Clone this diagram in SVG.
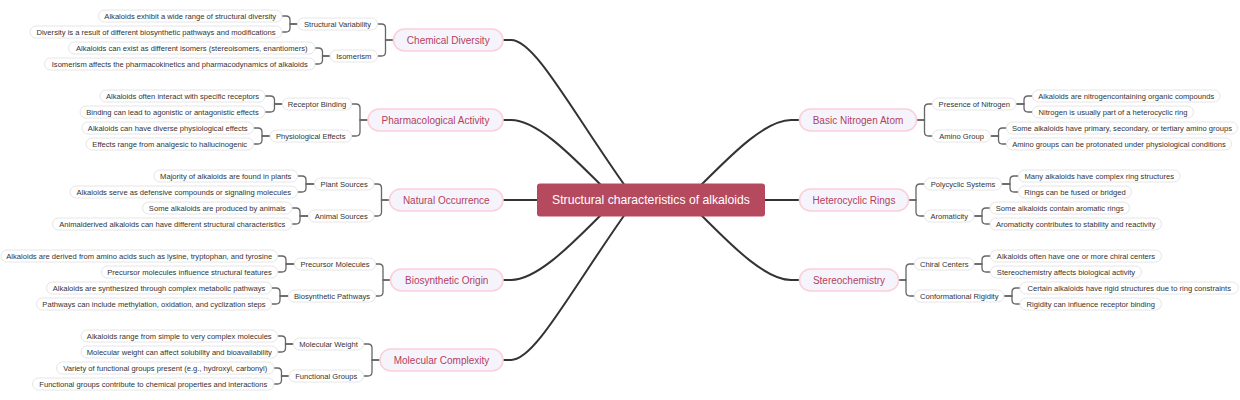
<svg xmlns="http://www.w3.org/2000/svg" width="1240" height="400" viewBox="0 0 1240 400">
<style>
text{font-family:"Liberation Sans",Arial,sans-serif;text-anchor:middle;dominant-baseline:central}
.root rect{fill:#b5495e}
.root text{fill:#fff;font-size:12.2px}
.main rect{fill:#f5f4fc;stroke:#fbd0d9;stroke-width:1.6}
.main text{fill:#b5405c;font-size:10px}
.sub rect,.leaf rect{fill:#fff;stroke:#e6e6e6;stroke-width:1}
.sub text,.leaf text{fill:#333;font-size:7.6px}
.mline{fill:none;stroke:#333;stroke-width:2}
.sline{fill:none;stroke:#666;stroke-width:1.3}
</style>
<rect width="1240" height="400" fill="#fff"/>
<g id="connectors">
<path class="mline" d="M503,40 H511 C535,40 571,110 628,190"/>
<path class="mline" d="M503,120 H511 C540,120 580,165 606,190"/>
<path class="mline" d="M503,200 H540"/>
<path class="mline" d="M503,280 H511 C540,280 580,235 606,210"/>
<path class="mline" d="M503,360 H511 C535,360 571,290 628,210"/>
<path class="mline" d="M799,120 H791 C762,120 722,165 696,190"/>
<path class="mline" d="M799,200 H762"/>
<path class="mline" d="M799,280 H791 C762,280 722,235 696,210"/>
<path class="sline" d="M393.5,40 H385.5 V28 Q385.5,24 381.5,24 H377.5"/>
<path class="sline" d="M393.5,40 H385.5 V52 Q385.5,56 381.5,56 H377.5"/>
<path class="sline" d="M297.5,24 H290 V20 Q290,16 286,16 H282"/>
<path class="sline" d="M297.5,24 H290 V28 Q290,32 286,32 H282"/>
<path class="sline" d="M330,56 H322.5 V52 Q322.5,48 318.5,48 H315"/>
<path class="sline" d="M330,56 H322.5 V60 Q322.5,64 318.5,64 H315"/>
<path class="sline" d="M368,120 H360 V108 Q360,104 356,104 H351.5"/>
<path class="sline" d="M368,120 H360 V132 Q360,136 356,136 H351.5"/>
<path class="sline" d="M282.5,104 H274.5 V100 Q274.5,96 270.5,96 H265"/>
<path class="sline" d="M282.5,104 H274.5 V108 Q274.5,112 270.5,112 H265"/>
<path class="sline" d="M270,136 H262 V132 Q262,128 258,128 H253.5"/>
<path class="sline" d="M270,136 H262 V140 Q262,144 258,144 H253.5"/>
<path class="sline" d="M389.5,200 H381.5 V188 Q381.5,184 377.5,184 H374"/>
<path class="sline" d="M389.5,200 H381.5 V212 Q381.5,216 377.5,216 H374"/>
<path class="sline" d="M314.5,184 H306 V180 Q306,176 302,176 H297.5"/>
<path class="sline" d="M314.5,184 H306 V188 Q306,192 302,192 H297.5"/>
<path class="sline" d="M308.5,216 H300 V212 Q300,208 296,208 H292"/>
<path class="sline" d="M308.5,216 H300 V220 Q300,224 296,224 H292"/>
<path class="sline" d="M390.5,280 H383 V268 Q383,264 379,264 H375.5"/>
<path class="sline" d="M390.5,280 H383 V292 Q383,296 379,296 H375.5"/>
<path class="sline" d="M294.5,264 H286 V260 Q286,256 282,256 H277.5"/>
<path class="sline" d="M294.5,264 H286 V268 Q286,272 282,272 H277.5"/>
<path class="sline" d="M288.5,296 H280 V292 Q280,288 276,288 H271.5"/>
<path class="sline" d="M288.5,296 H280 V300 Q280,304 276,304 H271.5"/>
<path class="sline" d="M380,360 H372 V348 Q372,344 368,344 H363.5"/>
<path class="sline" d="M380,360 H372 V372 Q372,376 368,376 H363.5"/>
<path class="sline" d="M293.5,344 H285.5 V340 Q285.5,336 281.5,336 H277.5"/>
<path class="sline" d="M293.5,344 H285.5 V348 Q285.5,352 281.5,352 H277.5"/>
<path class="sline" d="M289,376 H281.5 V372 Q281.5,368 277.5,368 H274"/>
<path class="sline" d="M289,376 H281.5 V380 Q281.5,384 277.5,384 H274"/>
<path class="sline" d="M916.5,120 H924.5 V108 Q924.5,104 928.5,104 H932.5"/>
<path class="sline" d="M916.5,120 H924.5 V132 Q924.5,136 928.5,136 H932.5"/>
<path class="sline" d="M1016,104 H1024 V100 Q1024,96 1028,96 H1032.5"/>
<path class="sline" d="M1016,104 H1024 V108 Q1024,112 1028,112 H1032.5"/>
<path class="sline" d="M990.5,136 H998.5 V132 Q998.5,128 1002.5,128 H1006.5"/>
<path class="sline" d="M990.5,136 H998.5 V140 Q998.5,144 1002.5,144 H1006.5"/>
<path class="sline" d="M908.5,200 H916 V188 Q916,184 920,184 H924.5"/>
<path class="sline" d="M908.5,200 H916 V212 Q916,216 920,216 H924.5"/>
<path class="sline" d="M1001.5,184 H1010 V180 Q1010,176 1014,176 H1018.5"/>
<path class="sline" d="M1001.5,184 H1010 V188 Q1010,192 1014,192 H1018.5"/>
<path class="sline" d="M974,216 H982 V212 Q982,208 986,208 H990"/>
<path class="sline" d="M974,216 H982 V220 Q982,224 986,224 H990"/>
<path class="sline" d="M898.5,280 H906 V268 Q906,264 910,264 H914.5"/>
<path class="sline" d="M898.5,280 H906 V292 Q906,296 910,296 H914.5"/>
<path class="sline" d="M974,264 H982 V260 Q982,256 986,256 H990.5"/>
<path class="sline" d="M974,264 H982 V268 Q982,272 986,272 H990.5"/>
<path class="sline" d="M1004,296 H1012 V292 Q1012,288 1016,288 H1020"/>
<path class="sline" d="M1004,296 H1012 V300 Q1012,304 1016,304 H1020"/>
</g>
<g id="root" class="root"><rect x="537" y="183.5" width="228" height="33" rx="3"/><text x="651" y="200">Structural characteristics of alkaloids</text></g>

<g id="chemical-diversity" class="main"><rect x="393.5" y="29" width="109.5" height="22" rx="11"/><text x="448.25" y="40">Chemical Diversity</text></g>
<g id="structural-variability" class="sub"><rect x="297.5" y="18" width="80" height="12" rx="6"/><text x="337.5" y="24">Structural Variability</text></g>
<g id="isomerism" class="sub"><rect x="330" y="50" width="47.5" height="12" rx="6"/><text x="353.75" y="56">Isomerism</text></g>
<g id="cd-l1" class="leaf"><rect x="98.5" y="10" width="183.5" height="12" rx="6"/><text x="190.25" y="16">Alkaloids exhibit a wide range of structural diversity</text></g>
<g id="cd-l2" class="leaf"><rect x="30" y="26" width="252" height="12" rx="6"/><text x="156" y="32">Diversity is a result of different biosynthetic pathways and modifications</text></g>
<g id="cd-l3" class="leaf"><rect x="68.5" y="42" width="246.5" height="12" rx="6"/><text x="191.75" y="48">Alkaloids can exist as different isomers (stereoisomers, enantiomers)</text></g>
<g id="cd-l4" class="leaf"><rect x="44.5" y="58" width="270.5" height="12" rx="6"/><text x="179.75" y="64">Isomerism affects the pharmacokinetics and pharmacodynamics of alkaloids</text></g>

<g id="pharmacological-activity" class="main"><rect x="368" y="109" width="135" height="22" rx="11"/><text x="435.5" y="120">Pharmacological Activity</text></g>
<g id="receptor-binding" class="sub"><rect x="282.5" y="98" width="69" height="12" rx="6"/><text x="317" y="104">Receptor Binding</text></g>
<g id="physiological-effects" class="sub"><rect x="270" y="130" width="81.5" height="12" rx="6"/><text x="310.75" y="136">Physiological Effects</text></g>
<g id="pa-l1" class="leaf"><rect x="100" y="90" width="165" height="12" rx="6"/><text x="182.5" y="96">Alkaloids often interact with specific receptors</text></g>
<g id="pa-l2" class="leaf"><rect x="80" y="106" width="185" height="12" rx="6"/><text x="172.5" y="112">Binding can lead to agonistic or antagonistic effects</text></g>
<g id="pa-l3" class="leaf"><rect x="82" y="122" width="171.5" height="12" rx="6"/><text x="167.75" y="128">Alkaloids can have diverse physiological effects</text></g>
<g id="pa-l4" class="leaf"><rect x="86" y="138" width="167.5" height="12" rx="6"/><text x="169.75" y="144">Effects range from analgesic to hallucinogenic</text></g>

<g id="natural-occurrence" class="main"><rect x="389.5" y="189" width="113.5" height="22" rx="11"/><text x="446.25" y="200">Natural Occurrence</text></g>
<g id="plant-sources" class="sub"><rect x="314.5" y="178" width="59.5" height="12" rx="6"/><text x="344.25" y="184">Plant Sources</text></g>
<g id="animal-sources" class="sub"><rect x="308.5" y="210" width="65.5" height="12" rx="6"/><text x="341.25" y="216">Animal Sources</text></g>
<g id="no-l1" class="leaf"><rect x="154" y="170" width="143.5" height="12" rx="6"/><text x="225.75" y="176">Majority of alkaloids are found in plants</text></g>
<g id="no-l2" class="leaf"><rect x="70" y="186" width="227.5" height="12" rx="6"/><text x="183.75" y="192">Alkaloids serve as defensive compounds or signaling molecules</text></g>
<g id="no-l3" class="leaf"><rect x="142.5" y="202" width="149.5" height="12" rx="6"/><text x="217.25" y="208">Some alkaloids are produced by animals</text></g>
<g id="no-l4" class="leaf"><rect x="52.5" y="218" width="239.5" height="12" rx="6"/><text x="172.25" y="224">Animalderived alkaloids can have different structural characteristics</text></g>

<g id="biosynthetic-origin" class="main"><rect x="390.5" y="269" width="112.5" height="22" rx="11"/><text x="446.75" y="280">Biosynthetic Origin</text></g>
<g id="precursor-molecules" class="sub"><rect x="294.5" y="258" width="81" height="12" rx="6"/><text x="335" y="264">Precursor Molecules</text></g>
<g id="biosynthetic-pathways" class="sub"><rect x="288.5" y="290" width="87" height="12" rx="6"/><text x="332" y="296">Biosynthetic Pathways</text></g>
<g id="bo-l1" class="leaf"><rect x="1" y="250" width="276.5" height="12" rx="6"/><text x="139.25" y="256">Alkaloids are derived from amino acids such as lysine, tryptophan, and tyrosine</text></g>
<g id="bo-l2" class="leaf"><rect x="101.5" y="266" width="176" height="12" rx="6"/><text x="189.5" y="272">Precursor molecules influence structural features</text></g>
<g id="bo-l3" class="leaf"><rect x="46.5" y="282" width="225" height="12" rx="6"/><text x="159" y="288">Alkaloids are synthesized through complex metabolic pathways</text></g>
<g id="bo-l4" class="leaf"><rect x="36.5" y="298" width="235" height="12" rx="6"/><text x="154" y="304">Pathways can include methylation, oxidation, and cyclization steps</text></g>

<g id="molecular-complexity" class="main"><rect x="380" y="349" width="123" height="22" rx="11"/><text x="441.5" y="360">Molecular Complexity</text></g>
<g id="molecular-weight" class="sub"><rect x="293.5" y="338" width="70" height="12" rx="6"/><text x="328.5" y="344">Molecular Weight</text></g>
<g id="functional-groups" class="sub"><rect x="289" y="370" width="74.5" height="12" rx="6"/><text x="326.25" y="376">Functional Groups</text></g>
<g id="mc-l1" class="leaf"><rect x="81" y="330" width="196.5" height="12" rx="6"/><text x="179.25" y="336">Alkaloids range from simple to very complex molecules</text></g>
<g id="mc-l2" class="leaf"><rect x="81" y="346" width="196.5" height="12" rx="6"/><text x="179.25" y="352">Molecular weight can affect solubility and bioavailability</text></g>
<g id="mc-l3" class="leaf"><rect x="56.5" y="362" width="217.5" height="12" rx="6"/><text x="165.25" y="368">Variety of functional groups present (e.g., hydroxyl, carbonyl)</text></g>
<g id="mc-l4" class="leaf"><rect x="32.5" y="378" width="241.5" height="12" rx="6"/><text x="153.25" y="384">Functional groups contribute to chemical properties and interactions</text></g>

<g id="basic-nitrogen-atom" class="main"><rect x="799.5" y="109" width="117" height="22" rx="11"/><text x="858" y="120">Basic Nitrogen Atom</text></g>
<g id="presence-of-nitrogen" class="sub"><rect x="932.5" y="98" width="83.5" height="12" rx="6"/><text x="974.25" y="104">Presence of Nitrogen</text></g>
<g id="amino-group" class="sub"><rect x="932.5" y="130" width="58" height="12" rx="6"/><text x="961.5" y="136">Amino Group</text></g>
<g id="bn-l1" class="leaf"><rect x="1032.5" y="90" width="187.5" height="12" rx="6"/><text x="1126.25" y="96">Alkaloids are nitrogencontaining organic compounds</text></g>
<g id="bn-l2" class="leaf"><rect x="1032.5" y="106" width="161" height="12" rx="6"/><text x="1113" y="112">Nitrogen is usually part of a heterocyclic ring</text></g>
<g id="bn-l3" class="leaf"><rect x="1006.5" y="122" width="231" height="12" rx="6"/><text x="1122" y="128">Some alkaloids have primary, secondary, or tertiary amino groups</text></g>
<g id="bn-l4" class="leaf"><rect x="1006.5" y="138" width="225" height="12" rx="6"/><text x="1119" y="144">Amino groups can be protonated under physiological conditions</text></g>

<g id="heterocyclic-rings" class="main"><rect x="799.5" y="189" width="109" height="22" rx="11"/><text x="854" y="200">Heterocyclic Rings</text></g>
<g id="polycyclic-systems" class="sub"><rect x="924.5" y="178" width="77" height="12" rx="6"/><text x="963" y="184">Polycyclic Systems</text></g>
<g id="aromaticity" class="sub"><rect x="924.5" y="210" width="49.5" height="12" rx="6"/><text x="949.25" y="216">Aromaticity</text></g>
<g id="hr-l1" class="leaf"><rect x="1018.5" y="170" width="161.5" height="12" rx="6"/><text x="1099.25" y="176">Many alkaloids have complex ring structures</text></g>
<g id="hr-l2" class="leaf"><rect x="1018.5" y="186" width="113" height="12" rx="6"/><text x="1075" y="192">Rings can be fused or bridged</text></g>
<g id="hr-l3" class="leaf"><rect x="990" y="202" width="139.5" height="12" rx="6"/><text x="1059.75" y="208">Some alkaloids contain aromatic rings</text></g>
<g id="hr-l4" class="leaf"><rect x="990" y="218" width="171.5" height="12" rx="6"/><text x="1075.75" y="224">Aromaticity contributes to stability and reactivity</text></g>

<g id="stereochemistry" class="main"><rect x="799.5" y="269" width="99" height="22" rx="11"/><text x="849" y="280">Stereochemistry</text></g>
<g id="chiral-centers" class="sub"><rect x="914.5" y="258" width="59.5" height="12" rx="6"/><text x="944.25" y="264">Chiral Centers</text></g>
<g id="conformational-rigidity" class="sub"><rect x="914.5" y="290" width="89.5" height="12" rx="6"/><text x="959.25" y="296">Conformational Rigidity</text></g>
<g id="st-l1" class="leaf"><rect x="990.5" y="250" width="171" height="12" rx="6"/><text x="1076" y="256">Alkaloids often have one or more chiral centers</text></g>
<g id="st-l2" class="leaf"><rect x="990.5" y="266" width="151" height="12" rx="6"/><text x="1066" y="272">Stereochemistry affects biological activity</text></g>
<g id="st-l3" class="leaf"><rect x="1020" y="282" width="218.5" height="12" rx="6"/><text x="1129.25" y="288">Certain alkaloids have rigid structures due to ring constraints</text></g>
<g id="st-l4" class="leaf"><rect x="1020" y="298" width="141.5" height="12" rx="6"/><text x="1090.75" y="304">Rigidity can influence receptor binding</text></g>
</svg>
